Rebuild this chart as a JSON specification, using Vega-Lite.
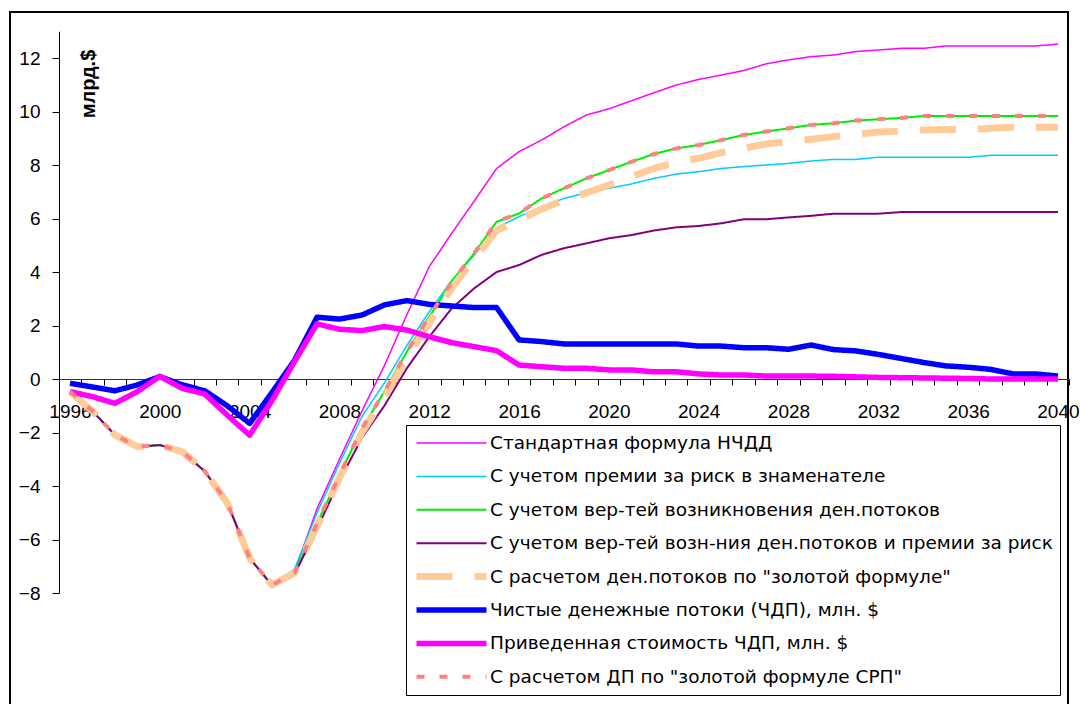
{
  "$schema": "https://vega.github.io/schema/vega-lite/v6.json",
  "width": 1058,
  "height": 700,
  "autosize": "none",
  "padding": {"left": 10, "top": 12, "right": 12, "bottom": 0},
  "background": "white",
  "config": {"view": {"stroke": "#000", "strokeWidth": 2}, "font": "Liberation Sans"},
  "datasets": {
    "names": [
      {"key": "s1", "name": "Стандартная формула НЧДД"},
      {"key": "s2", "name": "С учетом премии за риск в знаменателе"},
      {"key": "s3", "name": "С учетом вер-тей возникновения ден.потоков"},
      {"key": "s4", "name": "С учетом вер-тей возн-ния ден.потоков и премии за риск"},
      {"key": "s5", "name": "С расчетом ден.потоков по \"золотой формуле\""},
      {"key": "s6", "name": "Чистые денежные потоки (ЧДП), млн. $"},
      {"key": "s7", "name": "Приведенная стоимость ЧДП, млн. $"},
      {"key": "s8", "name": "С расчетом ДП по \"золотой формуле СРП\""}
    ]
  },
  "data": {"values": [
    {"year":1996,"s1":-0.47,"s2":-0.47,"s3":-0.47,"s4":-0.47,"s5":-0.47,"s6":-0.16,"s7":-0.47,"s8":-0.47},
    {"year":1997,"s1":-1.2,"s2":-1.2,"s3":-1.2,"s4":-1.2,"s5":-1.2,"s6":-0.3,"s7":-0.66,"s8":-1.2},
    {"year":1998,"s1":-2.09,"s2":-2.09,"s3":-2.09,"s4":-2.09,"s5":-2.09,"s6":-0.44,"s7":-0.91,"s8":-2.09},
    {"year":1999,"s1":-2.53,"s2":-2.53,"s3":-2.53,"s4":-2.53,"s5":-2.53,"s6":-0.22,"s7":-0.47,"s8":-2.53},
    {"year":2000,"s1":-2.47,"s2":-2.47,"s3":-2.47,"s4":-2.47,"s5":-2.47,"s6":0.09,"s7":0.1,"s8":-2.47},
    {"year":2001,"s1":-2.72,"s2":-2.72,"s3":-2.72,"s4":-2.72,"s5":-2.72,"s6":-0.22,"s7":-0.35,"s8":-2.72},
    {"year":2002,"s1":-3.45,"s2":-3.45,"s3":-3.45,"s4":-3.45,"s5":-3.45,"s6":-0.44,"s7":-0.56,"s8":-3.45},
    {"year":2003,"s1":-4.62,"s2":-4.62,"s3":-4.62,"s4":-4.62,"s5":-4.62,"s6":-1.0,"s7":-1.35,"s8":-4.62},
    {"year":2004,"s1":-6.7,"s2":-6.7,"s3":-6.7,"s4":-6.7,"s5":-6.7,"s6":-1.66,"s7":-2.1,"s8":-6.7},
    {"year":2005,"s1":-7.7,"s2":-7.7,"s3":-7.7,"s4":-7.72,"s5":-7.7,"s6":-0.5,"s7":-0.8,"s8":-7.7},
    {"year":2006,"s1":-7.2,"s2":-7.1,"s3":-7.25,"s4":-7.3,"s5":-7.25,"s6":0.7,"s7":0.65,"s8":-7.25},
    {"year":2007,"s1":-4.85,"s2":-5.0,"s3":-5.4,"s4":-5.6,"s5":-5.5,"s6":2.31,"s7":2.06,"s8":-5.4},
    {"year":2008,"s1":-3.0,"s2":-3.15,"s3":-3.6,"s4":-3.8,"s5":-3.7,"s6":2.24,"s7":1.86,"s8":-3.6},
    {"year":2009,"s1":-1.2,"s2":-1.4,"s3":-1.85,"s4":-2.2,"s5":-2.0,"s6":2.39,"s7":1.81,"s8":-1.85},
    {"year":2010,"s1":0.5,"s2":-0.15,"s3":-0.47,"s4":-1.0,"s5":-0.7,"s6":2.77,"s7":1.96,"s8":-0.47},
    {"year":2011,"s1":2.4,"s2":1.25,"s3":1.02,"s4":0.4,"s5":0.8,"s6":2.93,"s7":1.83,"s8":1.02},
    {"year":2012,"s1":4.2,"s2":2.52,"s3":2.33,"s4":1.58,"s5":2.1,"s6":2.79,"s7":1.58,"s8":2.33},
    {"year":2013,"s1":5.45,"s2":3.68,"s3":3.64,"s4":2.64,"s5":3.4,"s6":2.73,"s7":1.36,"s8":3.64},
    {"year":2014,"s1":6.65,"s2":4.64,"s3":4.7,"s4":3.39,"s5":4.5,"s6":2.67,"s7":1.21,"s8":4.7},
    {"year":2015,"s1":7.87,"s2":5.66,"s3":5.88,"s4":4.0,"s5":5.55,"s6":2.67,"s7":1.06,"s8":5.88},
    {"year":2016,"s1":8.5,"s2":6.07,"s3":6.19,"s4":4.26,"s5":5.94,"s6":1.46,"s7":0.52,"s8":6.2},
    {"year":2017,"s1":8.93,"s2":6.44,"s3":6.75,"s4":4.64,"s5":6.35,"s6":1.4,"s7":0.46,"s8":6.75},
    {"year":2018,"s1":9.43,"s2":6.75,"s3":7.13,"s4":4.89,"s5":6.69,"s6":1.31,"s7":0.4,"s8":7.13},
    {"year":2019,"s1":9.87,"s2":6.96,"s3":7.5,"s4":5.07,"s5":6.96,"s6":1.31,"s7":0.4,"s8":7.5},
    {"year":2020,"s1":10.1,"s2":7.13,"s3":7.81,"s4":5.26,"s5":7.25,"s6":1.31,"s7":0.34,"s8":7.81},
    {"year":2021,"s1":10.4,"s2":7.29,"s3":8.12,"s4":5.38,"s5":7.56,"s6":1.31,"s7":0.34,"s8":8.12},
    {"year":2022,"s1":10.7,"s2":7.5,"s3":8.41,"s4":5.55,"s5":7.87,"s6":1.31,"s7":0.27,"s8":8.41},
    {"year":2023,"s1":10.99,"s2":7.66,"s3":8.62,"s4":5.67,"s5":8.1,"s6":1.31,"s7":0.27,"s8":8.62},
    {"year":2024,"s1":11.2,"s2":7.75,"s3":8.75,"s4":5.72,"s5":8.25,"s6":1.23,"s7":0.19,"s8":8.75},
    {"year":2025,"s1":11.36,"s2":7.87,"s3":8.93,"s4":5.82,"s5":8.46,"s6":1.23,"s7":0.15,"s8":8.93},
    {"year":2026,"s1":11.53,"s2":7.94,"s3":9.12,"s4":5.97,"s5":8.62,"s6":1.17,"s7":0.15,"s8":9.12},
    {"year":2027,"s1":11.78,"s2":8.0,"s3":9.25,"s4":5.97,"s5":8.79,"s6":1.17,"s7":0.11,"s8":9.25},
    {"year":2028,"s1":11.93,"s2":8.06,"s3":9.37,"s4":6.04,"s5":8.87,"s6":1.11,"s7":0.11,"s8":9.37},
    {"year":2029,"s1":12.05,"s2":8.15,"s3":9.5,"s4":6.1,"s5":8.96,"s6":1.27,"s7":0.11,"s8":9.5},
    {"year":2030,"s1":12.11,"s2":8.21,"s3":9.56,"s4":6.18,"s5":9.06,"s6":1.1,"s7":0.1,"s8":9.56},
    {"year":2031,"s1":12.24,"s2":8.21,"s3":9.66,"s4":6.18,"s5":9.15,"s6":1.05,"s7":0.08,"s8":9.66},
    {"year":2032,"s1":12.3,"s2":8.29,"s3":9.71,"s4":6.18,"s5":9.23,"s6":0.92,"s7":0.06,"s8":9.71},
    {"year":2033,"s1":12.36,"s2":8.29,"s3":9.76,"s4":6.24,"s5":9.27,"s6":0.77,"s7":0.05,"s8":9.76},
    {"year":2034,"s1":12.36,"s2":8.29,"s3":9.83,"s4":6.24,"s5":9.31,"s6":0.62,"s7":0.04,"s8":9.83},
    {"year":2035,"s1":12.45,"s2":8.29,"s3":9.83,"s4":6.24,"s5":9.33,"s6":0.49,"s7":0.03,"s8":9.83},
    {"year":2036,"s1":12.45,"s2":8.29,"s3":9.83,"s4":6.24,"s5":9.33,"s6":0.44,"s7":0.02,"s8":9.83},
    {"year":2037,"s1":12.45,"s2":8.36,"s3":9.83,"s4":6.24,"s5":9.37,"s6":0.36,"s7":0.0,"s8":9.83},
    {"year":2038,"s1":12.45,"s2":8.36,"s3":9.83,"s4":6.24,"s5":9.41,"s6":0.19,"s7":0.0,"s8":9.83},
    {"year":2039,"s1":12.45,"s2":8.36,"s3":9.83,"s4":6.24,"s5":9.41,"s6":0.19,"s7":0.0,"s8":9.83},
    {"year":2040,"s1":12.52,"s2":8.36,"s3":9.83,"s4":6.24,"s5":9.41,"s6":0.11,"s7":0.0,"s8":9.83}
  ]},
  "transform": [
    {"fold": ["s1","s2","s3","s4","s5","s6","s7","s8"], "as": ["key","value"]},
    {"lookup": "key", "from": {"data": {"name": "names"}, "key": "key", "fields": ["name"]}}
  ],
  "mark": {"type": "line", "strokeJoin": "round", "strokeCap": "butt"},
  "encoding": {
    "x": {
      "field": "year", "type": "quantitative",
      "scale": {"domain": [1995.5, 2040.5], "range": [48.8, 1059.2], "nice": false, "zero": false},
      "axis": {
        "orient": "bottom", "offset": -333, "title": null, "grid": false,
        "values": [1995.5,1996.5,1997.5,1998.5,1999.5,2000.5,2001.5,2002.5,2003.5,2004.5,2005.5,2006.5,2007.5,2008.5,2009.5,2010.5,2011.5,2012.5,2013.5,2014.5,2015.5,2016.5,2017.5,2018.5,2019.5,2020.5,2021.5,2022.5,2023.5,2024.5,2025.5,2026.5,2027.5,2028.5,2029.5,2030.5,2031.5,2032.5,2033.5,2034.5,2035.5,2036.5,2037.5,2038.5,2039.5,2040.5],
        "labelExpr": "(datum.value + 0.5) % 4 == 0 ? toString(datum.value + 0.5) : ''",
        "labelOffset": 11.2, "labelOverlap": false, "labelFlush": false, "labelBound": false,
        "tickSize": 6, "tickColor": "#000", "domainColor": "#333", "domainWidth": 1.2,
        "labelFontSize": 19, "labelColor": "#000", "labelPadding": 17, "labelFont": "Liberation Sans"
      }
    },
    "y": {
      "field": "value", "type": "quantitative",
      "scale": {"domain": [-8, 13], "range": [581, 19.25], "nice": false, "zero": false},
      "axis": {
        "orient": "left", "offset": -49, "grid": false,
        "values": [-8,-6,-4,-2,0,2,4,6,8,10,12],
        "tickSize": 7, "tickColor": "#000", "domainColor": "#000",
        "labelFontSize": 19, "labelColor": "#000", "labelPadding": 12, "labelFont": "Liberation Sans",
        "title": "млрд.$", "titleFont": "Liberation Sans", "titleFontSize": 20, "titleFontWeight": "bold", "titleColor": "#000",
        "titleAngle": -90, "titleX": 29.5, "titleY": 71.5, "titleAlign": "center", "titleBaseline": "middle"
      }
    },
    "color": {
      "field": "name", "type": "nominal",
      "scale": {
        "domain": ["Стандартная формула НЧДД","С учетом премии за риск в знаменателе","С учетом вер-тей возникновения ден.потоков","С учетом вер-тей возн-ния ден.потоков и премии за риск","С расчетом ден.потоков по \"золотой формуле\"","Чистые денежные потоки (ЧДП), млн. $","Приведенная стоимость ЧДП, млн. $","С расчетом ДП по \"золотой формуле СРП\""],
        "range": ["#FF00FF","#00CCFF","#00EE00","#800080","#FFCC99","#0000FF","#FF00FF","#FF8080"]
      },
      "legend": {
        "orient": "none", "legendX": 396, "legendY": 413, "title": null,
        "symbolType": "stroke", "symbolSize": 4900, "labelFontSize": 18.5, "labelFont": "DejaVu Sans",
        "labelColor": "#000", "labelLimit": 900, "labelOffset": 0, "padding": 7, "rowPadding": 11.4,
        "clipHeight": 22,
        "strokeColor": "#000", "fillColor": "#fff"
      }
    },
    "strokeDash": {
      "field": "name", "type": "nominal",
      "scale": {
        "domain": ["Стандартная формула НЧДД","С учетом премии за риск в знаменателе","С учетом вер-тей возникновения ден.потоков","С учетом вер-тей возн-ния ден.потоков и премии за риск","С расчетом ден.потоков по \"золотой формуле\"","Чистые денежные потоки (ЧДП), млн. $","Приведенная стоимость ЧДП, млн. $","С расчетом ДП по \"золотой формуле СРП\""],
        "range": [[1,0],[1,0],[1,0],[1,0],[36,22],[1,0],[1,0],[8,15]]
      }
    },
    "strokeWidth": {
      "field": "name", "type": "nominal",
      "scale": {
        "type": "ordinal",
        "domain": ["Стандартная формула НЧДД","С учетом премии за риск в знаменателе","С учетом вер-тей возникновения ден.потоков","С учетом вер-тей возн-ния ден.потоков и премии за риск","С расчетом ден.потоков по \"золотой формуле\"","Чистые денежные потоки (ЧДП), млн. $","Приведенная стоимость ЧДП, млн. $","С расчетом ДП по \"золотой формуле СРП\""],
        "range": [1.5,1.5,2,2,7,5.5,5.5,4]
      }
    }
  }
}
